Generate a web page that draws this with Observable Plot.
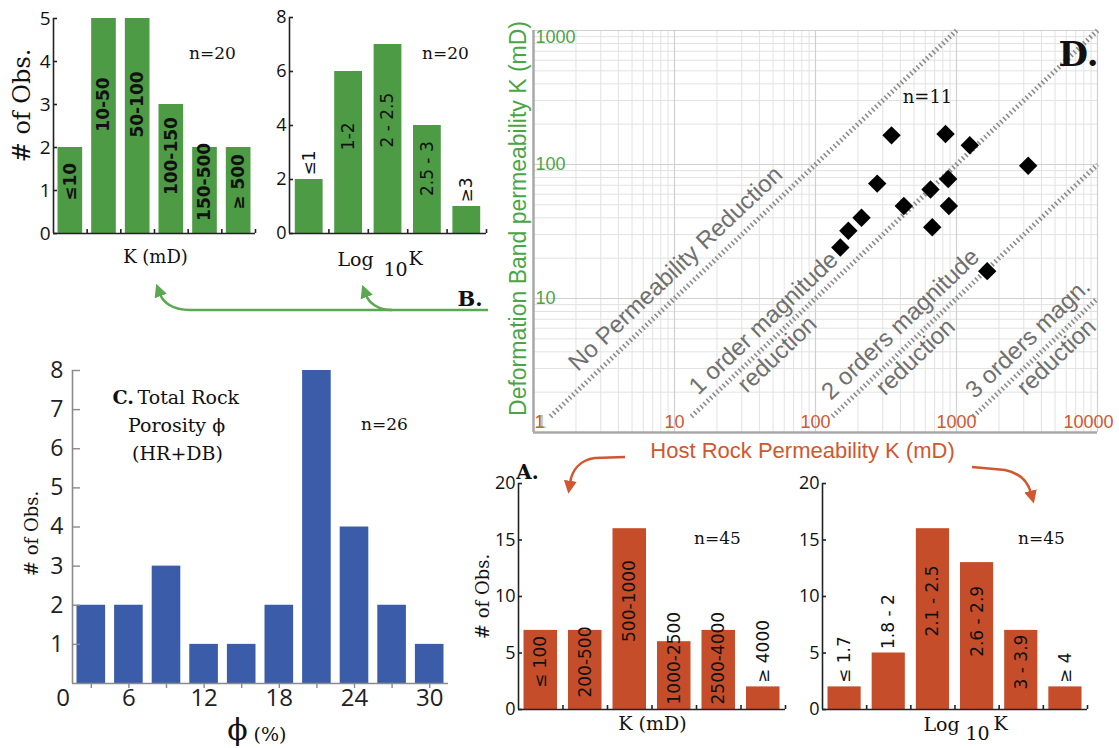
<!DOCTYPE html>
<html><head><meta charset="utf-8">
<script src="https://cdn.jsdelivr.net/npm/d3@7"></script>
<script src="https://cdn.jsdelivr.net/npm/@observablehq/plot@0.6"></script>
<style>
body{margin:0;background:#fff;}
#page{position:relative;width:1119px;height:748px;overflow:hidden;background:#fff;}
#page > svg{position:absolute;}
</style></head><body><div id="page"></div>
<script>
// ---------------- DATA ----------------
const bKCategories = ["≤10", "10-50", "50-100", "100-150", "150-500", "≥ 500"];
const bKCounts = [2, 5, 5, 3, 2, 2];
const bLogCategories = ["≤1", "1-2", "2 - 2.5", "2.5 - 3", "≥3"];
const bLogCounts = [2, 6, 7, 4, 1];
const aKCategories = ["≤ 100", "200-500", "500-1000", "1000-2500", "2500-4000", "≥ 4000"];
const aKCounts = [7, 7, 16, 6, 7, 2];
const aLogCategories = ["≤ 1.7", "1.8 - 2", "2.1 - 2.5", "2.6 - 2.9", "3 - 3.9", "≥ 4"];
const aLogCounts = [2, 5, 16, 13, 7, 2];
const porosityBinEdges = [0, 3, 6, 9, 12, 15, 18, 21, 24, 27, 30];
const porosityCounts = [2, 2, 3, 1, 1, 2, 8, 4, 2, 1];
const porosityTickLabels = [0, 6, 12, 18, 24, 30];
const hostRockK = [346, 836, 1242, 3223, 274, 654, 873, 423, 883, 212, 673, 171, 150, 1651];
const bandK = [165, 169, 139, 98, 72, 65, 78, 49, 49, 40, 34, 32, 24, 16];
const reductionFactors = [1, 10, 100, 1000];
const reductionLabels = [["No Permeability Reduction"], ["1 order magnitude", "reduction"], ["2 orders magnitude", "reduction"], ["3 orders magn.", "reduction"]];
const scatterXTicks = [1, 10, 100, 1000, 10000];
const scatterYTicks = [1, 10, 100, 1000];

// ---------------- STYLE ----------------
const serif = "'DejaVu Serif', serif";
const sans = "'Open Sans', sans-serif";
const arial = "'Liberation Sans', Arial, sans-serif";
const GREEN = "#4e9b45", BLUE = "#3b5ca8", ORANGE = "#c64d2a";
const GREEN_TXT = "#4aa547", RED_TXT = "#d0572f";
const page = document.getElementById("page");

function place(svg, left, top) {
  svg.style.left = left + "px";
  svg.style.top = top + "px";
  page.appendChild(svg);
}
function note(text, px, py, m, opts = {}) {
  return Plot.text([text], {frameAnchor: "top-left", dx: px - m.ml, dy: py - m.mt, text: d => d,
    textAnchor: "middle", lineAnchor: "middle", ...opts});
}

function barChart(o) {
  const n = o.cats.length, idx = d3.range(n);
  const ppu = (o.height - o.mt - o.mb) / o.ymax;
  const ctx = document.createElement("canvas").getContext("2d");
  ctx.font = `${o.labelWeight} ${o.labelSize}px ${o.labelFamily}`;
  const isAbove = i => o.counts[i] * ppu < 60;
  const labelCenter = i => Math.max(0.6 * o.counts[i], (ctx.measureText(o.cats[i]).width / 2 + 5) / ppu);
  const labelStyle = {rotate: -90, fontSize: o.labelSize, fontFamily: o.labelFamily, fontWeight: o.labelWeight, fill: "#111", lineAnchor: "middle"};
  const svg = Plot.plot({
    width: o.width, height: o.height,
    marginLeft: o.ml, marginRight: o.mr, marginTop: o.mt, marginBottom: o.mb,
    x: {domain: [0, n], axis: null},
    y: {domain: [0, o.ymax], axis: null},
    style: {background: "none", overflow: "visible"},
    marks: [
      Plot.rect(idx, {x1: i => i, x2: i => i + 1, y1: 0, y2: i => o.counts[i], fill: o.fill, insetLeft: o.inset, insetRight: o.inset}),
      Plot.ruleX([0], {y1: 0, y2: o.ymax, stroke: o.axis, strokeWidth: 1.6}),
      Plot.ruleY([0], {x1: 0, x2: n, stroke: o.axis, strokeWidth: 1.6}),
      Plot.ruleX(d3.range(1, n + 1), {x: d => d, y1: 0, y2: 0, insetTop: -4, stroke: o.axis, strokeWidth: 1.6}),
      Plot.ruleY(o.yticks, {y: d => d, x1: 0, x2: 0, insetRight: -4, stroke: o.axis, strokeWidth: 1.6}),
      Plot.text(o.yticks, {x: 0, y: d => d, text: d => String(d), textAnchor: "end", dx: -3, fontSize: o.tickSize, fontFamily: sans, fill: "#111"}),
      Plot.text(idx.filter(i => !isAbove(i)), {x: i => i + 0.5, y: labelCenter, text: i => o.cats[i], textAnchor: "middle", ...labelStyle}),
      Plot.text(idx.filter(isAbove), {x: i => i + 0.5, y: i => o.counts[i], text: i => o.cats[i], textAnchor: "start", dy: -4, ...labelStyle}),
      ...o.notes
    ]
  });
  place(svg, o.left, o.top);
}

// ---------- B: K (mD) ----------
{
  const m = {ml: 53, mt: 18};
  barChart({cats: bKCategories, counts: bKCounts, left: 0, top: 0, width: 270, height: 290,
    ml: 53, mr: 15, mt: 18, mb: 57, ymax: 5, yticks: [0, 1, 2, 3, 4, 5], fill: GREEN, inset: 4.5, axis: "#222",
    tickSize: 19, labelSize: 17, labelWeight: "bold", labelFamily: "'DejaVu Sans', sans-serif",
    notes: [
      note("# of Obs.", 22, 105, m, {rotate: -90, fontFamily: serif, fontSize: 24, fill: "#111"}),
      note("K (mD)", 155, 257, m, {fontFamily: serif, fontSize: 18, fill: "#111"}),
      note("n=20", 212, 53, m, {fontFamily: serif, fontSize: 17, fill: "#111"})
    ]});
}
// ---------- B: Log10 K ----------
{
  const m = {ml: 19, mt: 17};
  barChart({cats: bLogCategories, counts: bLogCounts, left: 270, top: 0, width: 230, height: 290,
    ml: 19, mr: 14, mt: 17, mb: 57, ymax: 8, yticks: [0, 2, 4, 6, 8], fill: GREEN, inset: 5.8, axis: "#222",
    tickSize: 18, labelSize: 17, labelWeight: "normal", labelFamily: "'DejaVu Sans', sans-serif",
    notes: [
      note("n=20", 175, 53, m, {fontFamily: serif, fontSize: 17, fill: "#111"}),
      note("Log", 67, 259, m, {textAnchor: "start", fontFamily: serif, fontSize: 19, fill: "#111"}),
      note("10", 113, 269, m, {textAnchor: "start", fontFamily: serif, fontSize: 19, fill: "#111"}),
      note("K", 138, 258, m, {textAnchor: "start", fontFamily: serif, fontSize: 19, fill: "#111"})
    ]});
}
// ---------- A: K (mD) ----------
{
  const m = {ml: 48, mt: 43};
  barChart({cats: aKCategories, counts: aKCounts, left: 470, top: 440, width: 330, height: 308,
    ml: 48, mr: 15, mt: 43, mb: 39, ymax: 20, yticks: [0, 5, 10, 15, 20], fill: ORANGE, inset: 5.5, axis: "#222",
    tickSize: 18, labelSize: 17, labelWeight: "normal", labelFamily: "'DejaVu Sans', sans-serif",
    notes: [
      note("A.", 57, 32, m, {fontFamily: serif, fontWeight: "bold", fontSize: 20, fill: "#111"}),
      note("# of Obs.", 13, 156, m, {rotate: -90, fontFamily: serif, fontSize: 18, fill: "#111"}),
      note("K (mD)", 182, 283, m, {fontFamily: serif, fontSize: 19, fill: "#111"}),
      note("n=45", 247, 98, m, {fontFamily: serif, fontSize: 17, fill: "#111"})
    ]});
}
// ---------- A: Log10 K ----------
{
  const m = {ml: 32, mt: 43};
  barChart({cats: aLogCategories, counts: aLogCounts, left: 790, top: 440, width: 329, height: 308,
    ml: 32, mr: 32, mt: 43, mb: 39, ymax: 20, yticks: [0, 5, 10, 15, 20], fill: ORANGE, inset: 5.5, axis: "#222",
    tickSize: 18, labelSize: 17, labelWeight: "normal", labelFamily: "'DejaVu Sans', sans-serif",
    notes: [
      note("n=45", 251, 98, m, {fontFamily: serif, fontSize: 17, fill: "#111"}),
      note("Log", 133, 284, m, {textAnchor: "start", fontFamily: serif, fontSize: 19, fill: "#111"}),
      note("10", 175, 293, m, {textAnchor: "start", fontFamily: serif, fontSize: 19, fill: "#111"}),
      note("K", 203, 283, m, {textAnchor: "start", fontFamily: serif, fontSize: 19, fill: "#111"})
    ]});
}
// ---------- C: porosity histogram ----------
{
  const m = {ml: 72, mt: 40};
  const idx = d3.range(porosityCounts.length);
  const centers = idx.map(i => (porosityBinEdges[i] + porosityBinEdges[i + 1]) / 2);
  const halfBin = (porosityBinEdges[1] - porosityBinEdges[0]) / 2;
  const ax = "#8a8a8a";
  const svg = Plot.plot({
    width: 460, height: 418, marginLeft: 72, marginRight: 12, marginTop: 40, marginBottom: 65,
    x: {domain: [porosityBinEdges[0], porosityBinEdges[porosityBinEdges.length - 1]], axis: null},
    y: {domain: [0, 8], axis: null},
    style: {background: "none", overflow: "visible"},
    marks: [
      Plot.rect(idx, {x1: i => porosityBinEdges[i], x2: i => porosityBinEdges[i + 1], y1: 0, y2: i => porosityCounts[i], fill: BLUE, insetLeft: 4.5, insetRight: 4.5}),
      Plot.ruleX([0], {y1: 0, y2: 8, stroke: ax, strokeWidth: 1.6}),
      Plot.ruleY([0], {x1: 0, x2: 30, stroke: ax, strokeWidth: 1.6}),
      Plot.ruleX(centers, {x: d => d, y1: 0, y2: 0, insetBottom: -5, stroke: ax, strokeWidth: 1.4}),
      Plot.ruleY(d3.range(1, 9), {y: d => d, x1: 0, x2: 0, insetRight: -8, stroke: ax, strokeWidth: 1.4}),
      Plot.text(d3.range(1, 9), {x: 0, y: d => d, text: d => String(d), textAnchor: "end", dx: -9, fontSize: 23, fontFamily: sans, fill: "#222"}),
      Plot.text(porosityTickLabels, {x: d => Math.max(d - halfBin, -0.75), y: 0, dy: 15, text: d => String(d), fontSize: 24, fontFamily: sans, fill: "#222"}),
      note("# of Obs.", 32, 203, m, {rotate: -90, fontFamily: serif, fontSize: 18, fill: "#111"}),
      note("ϕ", 237, 400, m, {fontFamily: serif, fontSize: 30, fill: "#111"}),
      note("(%)", 253, 404, m, {textAnchor: "start", fontFamily: serif, fontSize: 19, fill: "#111"}),
      note("C.", 112, 67, m, {textAnchor: "start", fontFamily: serif, fontWeight: "bold", fontSize: 19, fill: "#111"}),
      note("Total Rock", 137, 67, m, {textAnchor: "start", fontFamily: serif, fontSize: 19, fill: "#111"}),
      note("Porosity ϕ", 176, 95, m, {fontFamily: serif, fontSize: 19, fill: "#111"}),
      note("(HR+DB)", 177, 123, m, {fontFamily: serif, fontSize: 19, fill: "#111"}),
      note("n=26", 384, 94, m, {fontFamily: serif, fontSize: 17, fill: "#111"})
    ]
  });
  place(svg, 0, 330);
}
// ---------- D: scatter ----------
{
  const W = 629, H = 470, sm = {ml: 43, mr: 22, mt: 30, mb: 38};
  const pxX = (W - sm.ml - sm.mr) / 4, pxY = (H - sm.mt - sm.mb) / 3;
  const theta = Math.atan2(pxY, pxX);
  const onLine = (f, t, p) => ({
    x: 10 ** (Math.log10(f) + t - p * Math.sin(theta) / pxX),
    y: 10 ** (t + p * Math.cos(theta) / pxY)
  });
  const xGrid = d3.scaleLog().domain([1, 10000]).ticks();
  const yGrid = d3.scaleLog().domain([1, 1000]).ticks();
  const isMajor = v => Math.abs(Math.log10(v) - Math.round(Math.log10(v))) < 1e-9;
  // label placement along each line (decades from line start, perpendicular px)
  const along = [[1.11], [0.72, 0.66], [0.70, 0.64], [0.60, 0.64]];
  const perp = [[21], [18, -14], [20, -14], [19, -14]];
  const labelRows = reductionFactors.flatMap((f, i) => reductionLabels[i].map((s, j) => ({s, ...onLine(f, along[i][j], perp[i][j])})));
  const start = 0.12;
  const endT = f => Math.min(3, 4 - Math.log10(f));
  const dIdx = d3.range(hostRockK.length);
  const lastX = scatterXTicks[scatterXTicks.length - 1];
  const tickText = {fontSize: 18, fontFamily: arial};
  const svg = Plot.plot({
    width: W, height: H, marginLeft: sm.ml, marginRight: sm.mr, marginTop: sm.mt, marginBottom: sm.mb,
    x: {type: "log", domain: [1, 10000], axis: null},
    y: {type: "log", domain: [1, 1000], axis: null},
    style: {background: "none", overflow: "visible"},
    marks: [
      Plot.ruleX(xGrid.filter(v => !isMajor(v)), {stroke: "#e2e2e2", strokeWidth: 1}),
      Plot.ruleY(yGrid.filter(v => !isMajor(v)), {stroke: "#e2e2e2", strokeWidth: 1}),
      Plot.ruleX(xGrid.filter(isMajor), {stroke: "#d0d0d0", strokeWidth: 1.2}),
      Plot.ruleY(yGrid.filter(isMajor), {stroke: "#d0d0d0", strokeWidth: 1.2}),
      Plot.ruleX([1], {stroke: "#a8a8a8", strokeWidth: 2.5}),
      Plot.ruleY([1], {stroke: "#a8a8a8", strokeWidth: 2.5}),
      Plot.link(reductionFactors, {
        x1: f => onLine(f, start, 0).x, y1: f => onLine(f, start, 0).y,
        x2: f => onLine(f, endT(f), 0).x, y2: f => onLine(f, endT(f), 0).y,
        stroke: "#8c8c8c", strokeWidth: 5, strokeDasharray: "1.6,2.8"
      }),
      Plot.text(labelRows, {x: "x", y: "y", text: "s", rotate: -theta * 180 / Math.PI, fontSize: 24, fontFamily: arial, fill: "#707070", lineAnchor: "middle"}),
      Plot.dot(dIdx, {x: i => hostRockK[i], y: i => bandK[i], symbol: "diamond2", r: 8.3, fill: "#000", stroke: "none"}),
      Plot.text(scatterXTicks.filter(d => d > 1 && d < lastX), {x: d => d, y: 1, dy: -10, text: d => String(d), fill: RED_TXT, ...tickText}),
      Plot.text(scatterXTicks.filter(d => d === lastX), {x: d => d, y: 1, dy: -10, dx: 16, textAnchor: "end", text: d => String(d), fill: RED_TXT, ...tickText}),
      Plot.text(scatterXTicks.filter(d => d === 1), {x: d => d, y: 1, dy: -10, dx: 1, textAnchor: "start", text: d => String(d), fill: RED_TXT, ...tickText}),
      Plot.text(scatterYTicks.filter(d => d > 1 && d < 1000), {x: 1, y: d => d, dx: 2, text: d => String(d), textAnchor: "start", fill: GREEN_TXT, ...tickText}),
      Plot.text(scatterYTicks.filter(d => d === 1000), {x: 1, y: d => d, dx: 2, dy: 7, text: d => String(d), textAnchor: "start", fill: GREEN_TXT, ...tickText}),
      Plot.text(scatterYTicks.filter(d => d === 1), {x: 1, y: d => d, dx: 3, dy: -10, text: d => String(d), textAnchor: "start", fill: GREEN_TXT, fillOpacity: 0.55, ...tickText}),
      note("Deformation Band permeability K (mD)", 28, 218, sm, {rotate: -90, fontSize: 23, fontFamily: arial, fill: GREEN_TXT}),
      note("Host Rock Permeability K (mD)", 312, 450, sm, {fontSize: 22, fontFamily: arial, fill: RED_TXT}),
      note("n=11", 437, 97, sm, {fontFamily: serif, fontSize: 18, fill: "#111"}),
      note("D.", 588, 55, sm, {fontFamily: serif, fontWeight: "bold", fontSize: 34, fill: "#111"})
    ]
  });
  place(svg, 490, 0);
}
// ---------- connecting arrows & panel letters ----------
{
  const ns = "http://www.w3.org/2000/svg";
  const ov = document.createElementNS(ns, "svg");
  ov.setAttribute("width", 1119); ov.setAttribute("height", 748);
  ov.style.left = "0px"; ov.style.top = "0px"; ov.style.pointerEvents = "none";
  ov.innerHTML = `
  <defs>
    <marker id="ag" viewBox="0 0 12 12" refX="2" refY="6" markerWidth="13" markerHeight="13" markerUnits="userSpaceOnUse" orient="auto"><path d="M0,0 L12,6 L0,12 z" fill="#5aa852"/></marker>
    <marker id="ar" viewBox="0 0 12 12" refX="2" refY="6" markerWidth="13" markerHeight="13" markerUnits="userSpaceOnUse" orient="auto"><path d="M0,0 L12,6 L0,12 z" fill="${RED_TXT}"/></marker>
  </defs>
  <path d="M488,310 L190,310 C172,310 163,302 160,294" stroke="#5aa852" stroke-width="2.5" fill="none" marker-end="url(#ag)"/>
  <path d="M392,310 C378,310 369,303 366,295" stroke="#5aa852" stroke-width="2.5" fill="none" marker-end="url(#ag)"/>
  <path d="M625,457 L595,458 C580,460 572,470 570,483" stroke="${RED_TXT}" stroke-width="2.5" fill="none" marker-end="url(#ar)"/>
  <path d="M972,467 L1005,470 C1020,473 1028,482 1031,493" stroke="${RED_TXT}" stroke-width="2.5" fill="none" marker-end="url(#ar)"/>
  <text x="470" y="298" text-anchor="middle" dominant-baseline="central" font-family="DejaVu Serif" font-weight="bold" font-size="21" fill="#111">B.</text>`;
  page.appendChild(ov);
}
</script></body></html>
